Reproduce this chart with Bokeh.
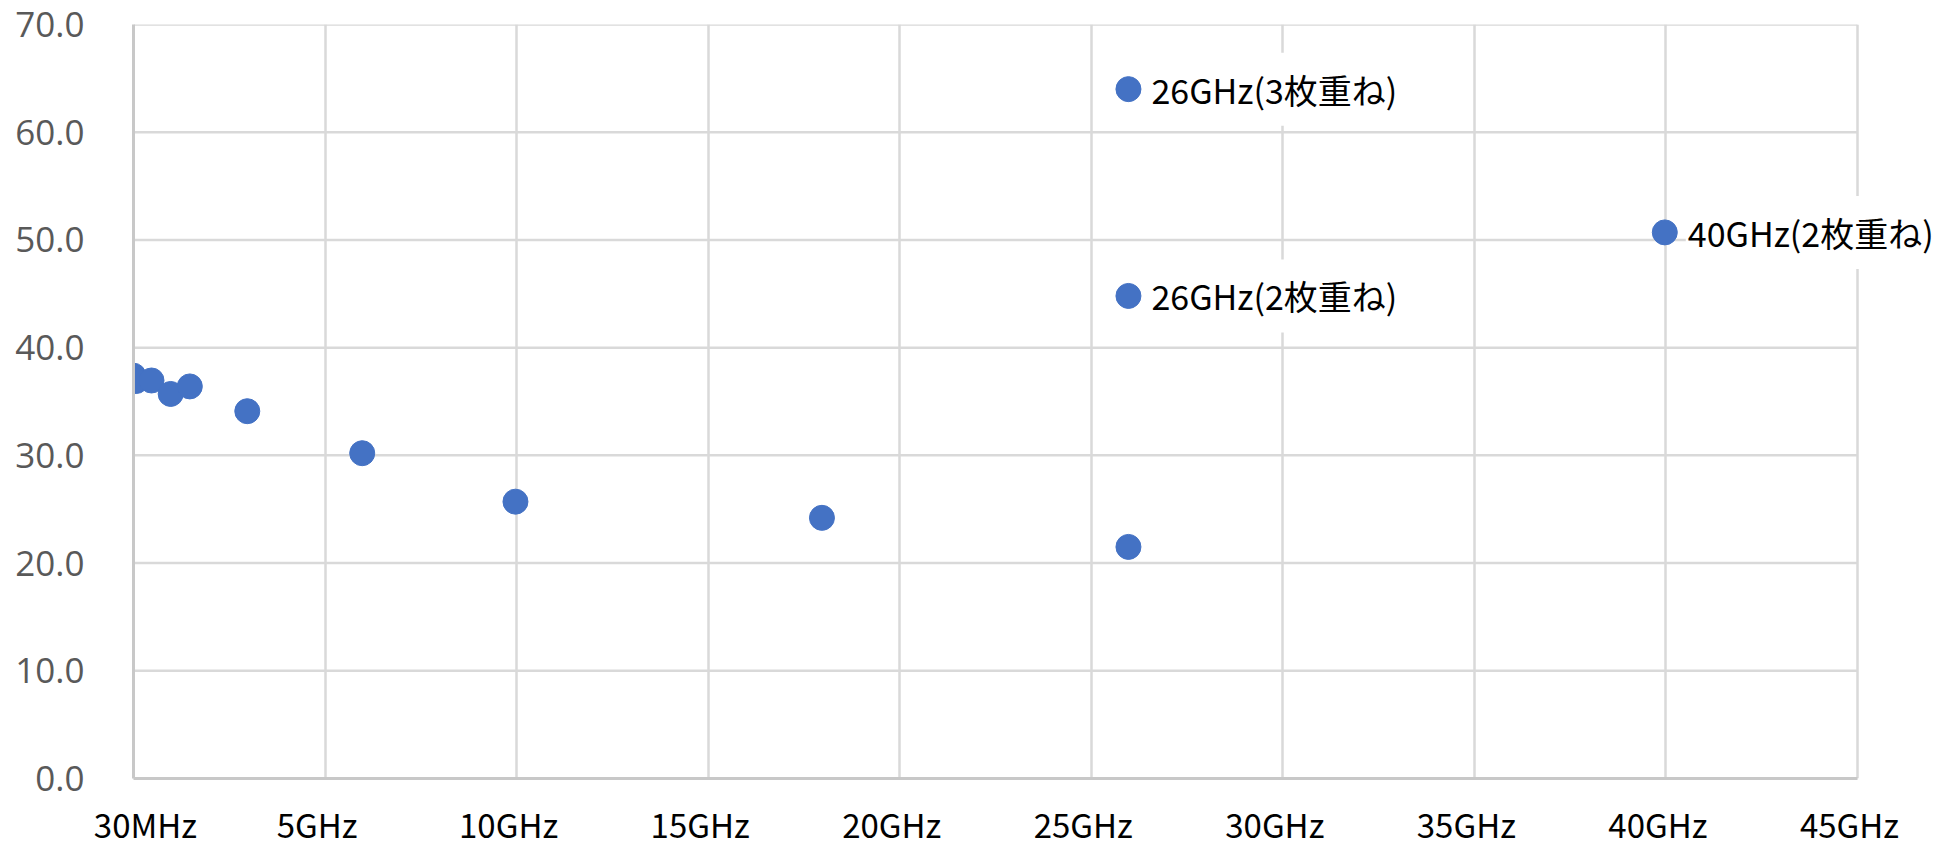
from bokeh.plotting import figure
from bokeh.models import ColumnDataSource, Label, FixedTicker, Range1d, NumeralTickFormatter
from bokeh.embed import file_html
from bokeh.resources import INLINE

# ---- data (frequency in GHz, value) ----
freq_ghz = [0.03, 0.1, 0.5, 1.0, 1.5, 3.0, 6.0, 10.0, 18.0, 26.0, 26.0, 26.0, 40.0]
values = [37.4, 36.9, 36.95, 35.7, 36.4, 34.1, 30.2, 25.7, 24.2, 21.5, 44.8, 64.0, 50.7]

label_x = [26.0, 26.0, 40.0]
label_y = [64.0, 44.8, 50.7]
label_text = ["26GHz(3枚重ね)", "26GHz(2枚重ね)", "40GHz(2枚重ね)"]

x_ticks = [0.03, 5.03, 10.03, 15.03, 20.03, 25.03, 30.03, 35.03, 40.03, 45.03]
x_tick_labels = ["30MHz", "5GHz", "10GHz", "15GHz", "20GHz", "25GHz", "30GHz", "35GHz", "40GHz", "45GHz"]
y_ticks = [0, 10, 20, 30, 40, 50, 60, 70]

# ---- layout ----
PLOT_W = 1724              # width of the gridded area (px)
EXTRA_R = 90               # room on the right for the 40GHz label
px_per_ghz = PLOT_W / (x_ticks[-1] - x_ticks[0])
x_end = x_ticks[-1] + EXTRA_R / px_per_ghz

p = figure(
    frame_width=PLOT_W + EXTRA_R, frame_height=754,
    x_range=Range1d(x_ticks[0], x_end), y_range=Range1d(0, 70),
    output_backend="svg", toolbar_location=None,
    min_border_left=133, min_border_top=24, min_border_right=0, min_border_bottom=51,
)
p.outline_line_color = None
p.background_fill_color = "white"
p.border_fill_color = "white"

# vertical grid lines
p.xgrid.ticker = FixedTicker(ticks=x_ticks)
p.xgrid.grid_line_color = "#D9D9D9"
p.xgrid.grid_line_width = 2.5
# horizontal grid lines, limited to the gridded area
p.ygrid.grid_line_color = None
p.segment(x0=[x_ticks[0]] * len(y_ticks), x1=[x_ticks[-1]] * len(y_ticks),
          y0=y_ticks, y1=y_ticks, line_color="#D9D9D9", line_width=2.5, level="underlay")

# x axis (labels nudged like the original's)
label_pos = [round(x_ticks[0] + 0.31, 2)] + [round(t - 0.21, 2) for t in x_ticks[1:]]
p.xaxis.ticker = FixedTicker(ticks=label_pos)
p.xaxis.major_label_overrides = {t: l for t, l in zip(label_pos, x_tick_labels)}
p.xaxis.bounds = (x_ticks[0], x_ticks[-1])
p.xaxis.axis_line_color = "#C8C8C8"
p.xaxis.axis_line_width = 3
p.xaxis.major_tick_line_color = None
p.xaxis.minor_tick_line_color = None
p.xaxis.major_tick_out = 0
p.xaxis.major_label_standoff = 21
p.xaxis.major_label_text_font = "Noto Sans CJK JP"
p.xaxis.major_label_text_font_size = "33px"
p.xaxis.major_label_text_color = "#000000"

# y axis
p.yaxis.ticker = FixedTicker(ticks=y_ticks)
p.yaxis.formatter = NumeralTickFormatter(format="0.0")
p.yaxis.axis_line_color = "#C8C8C8"
p.yaxis.axis_line_width = 3
p.yaxis.major_tick_line_color = None
p.yaxis.minor_tick_line_color = None
p.yaxis.major_tick_out = 0
p.yaxis.major_label_standoff = 49
p.yaxis.major_label_text_font = "Open Sans"
p.yaxis.major_label_text_font_size = "35px"
p.yaxis.major_label_text_color = "#595959"

# labels with a white box behind them
for lx, ly, lt in zip(label_x, label_y, label_text):
    p.add_layout(Label(
        x=lx, y=ly, text=lt,
        x_offset=21, y_offset=0,
        text_baseline="middle", text_align="left",
        text_font="Noto Sans CJK JP", text_font_size="34px", text_color="#000000",
        background_fill_color="white", padding=(2, 12),
    ))

# points
src = ColumnDataSource(dict(x=freq_ghz, y=values))
p.scatter("x", "y", source=src, size=25, fill_color="#4472C4", line_color="#4472C4")

open("out.html", "w").write(file_html(p, INLINE))
